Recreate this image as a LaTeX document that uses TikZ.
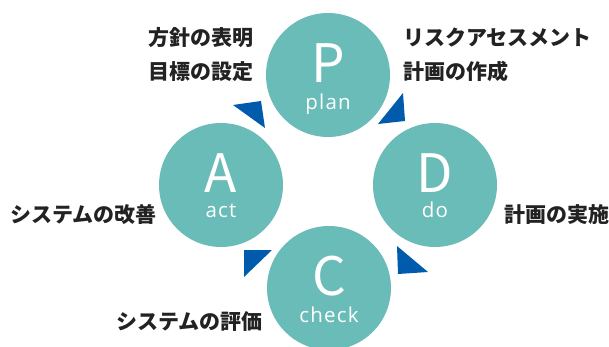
\documentclass[tikz,border=0pt]{standalone}
\usepackage{fontspec}
\setmainfont{Noto Sans CJK JP}
\newfontfamily\wordfont{Open Sans}[LetterSpace=6]
\definecolor{pdcateal}{HTML}{6ABCB8}
\definecolor{pdcablue}{HTML}{005BAC}
\definecolor{pdcatext}{HTML}{222222}

\tikzstyle{phase} = [circle,fill=pdcateal,minimum size=124pt,inner sep=0pt]
\tikzstyle{bigletter} = [text=white,font=\fontsize{53}{53}\selectfont,anchor=base,inner sep=0pt]
\tikzstyle{word} = [text=white,font=\wordfont\fontsize{20.5}{20}\selectfont,anchor=base,inner sep=0pt]
\tikzstyle{task} = [text=pdcatext,font=\bfseries\fontsize{21}{24}\selectfont,anchor=west,inner sep=0pt]
\tikzstyle{turn} = [fill=pdcablue]

\begin{document}
\begin{tikzpicture}[x=1pt,y=-1pt]
\useasboundingbox (0,0) rectangle (609,347);

% phases
\node[phase] (P) at (328,75) {};
\node[phase] (A) at (221,185) {};
\node[phase] (D) at (435,185) {};
\node[phase] (C) at (329,288) {};

\node[bigletter] (Pl) at (328,83) {P};
\node[word] (Pw) at (328,110) {plan};
\node[bigletter] (Al) at (221,193) {A};
\node[word] (Aw) at (221,217) {act};
\node[bigletter] (Dl) at (435,193) {D};
\node[word] (Dw) at (435,217) {do};
\node[bigletter] (Cl) at (329,295) {C};
\node[word] (Cw) at (329,322) {check};

% turning arrows
\fill[turn] (233,105) -- (261,101) -- (265,128) -- cycle;
\fill[turn] (403,93) -- (405,121) -- (378,124) -- cycle;
\fill[turn] (397,246) -- (428,272) -- (398,274) -- cycle;
\fill[turn] (244,250) -- (272,250) -- (244,277) -- cycle;

% tasks
\node[task] (t1) at (148,38) {方針の表明};
\node[task] (t2) at (148,72) {目標の設定};
\node[task] (t3) at (403,38) {リスクアセスメント};
\node[task] (t4) at (403,72) {計画の作成};
\node[task] (t5) at (504,215) {計画の実施};
\node[task] (t6) at (10,215) {システムの改善};
\node[task] (t7) at (116,322) {システムの評価};

\end{tikzpicture}
\end{document}
